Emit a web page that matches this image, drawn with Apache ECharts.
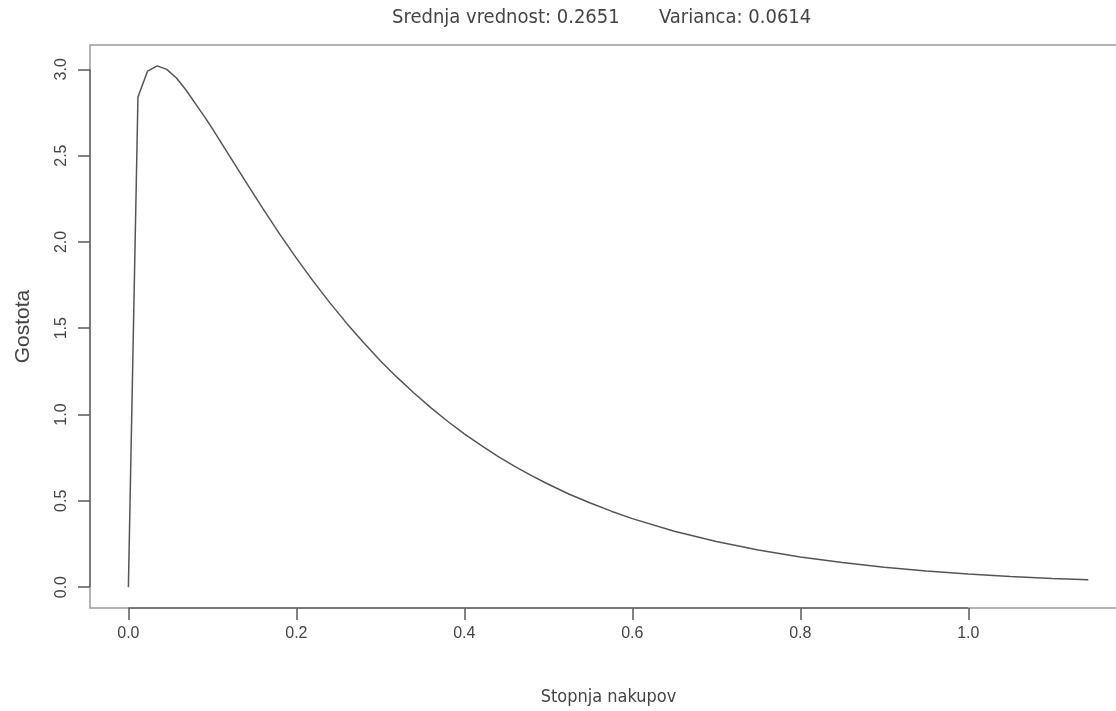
<!DOCTYPE html>
<html>
<head>
<meta charset="utf-8">
<script src="https://cdn.jsdelivr.net/npm/echarts@6/dist/echarts.min.js"></script>
<style>
  html, body { margin: 0; padding: 0; background: #fff; overflow: hidden; }
  /* the frame's right edge runs past the page edge */
  #chart { width: 1130px; height: 711px; }
</style>
</head>
<body>
<div id="chart"></div>
<script>
// Density curve of purchase rate (Stopnja nakupov)
const rateX = [0, 0.0114, 0.0229, 0.0343, 0.0457, 0.0572, 0.0686, 0.0800, 0.0914,
  0.10, 0.12, 0.14, 0.16, 0.18, 0.20, 0.22, 0.24, 0.26, 0.28, 0.30, 0.32, 0.34,
  0.36, 0.38, 0.40, 0.42, 0.44, 0.46, 0.48, 0.50, 0.525, 0.55, 0.575, 0.60,
  0.65, 0.70, 0.75, 0.80, 0.85, 0.90, 0.95, 1.00, 1.05, 1.10, 1.143];
const densityY = [0, 2.84, 2.99, 3.02, 3.00, 2.95, 2.88, 2.80, 2.72,
  2.656, 2.501, 2.346, 2.194, 2.047, 1.906, 1.773, 1.647, 1.528, 1.417, 1.312, 1.215, 1.125,
  1.040, 0.961, 0.888, 0.821, 0.758, 0.700, 0.646, 0.596, 0.538, 0.487, 0.440, 0.397,
  0.324, 0.264, 0.215, 0.175, 0.142, 0.115, 0.094, 0.076, 0.062, 0.050, 0.042];

const xTicks = [0, 0.2, 0.4, 0.6, 0.8, 1.0];
const yTicks = [0, 0.5, 1.0, 1.5, 2.0, 2.5, 3.0];

const meanText = 'Srednja vrednost: 0.2651';
const varText = 'Varianca: 0.0614';
const xTitle = 'Stopnja nakupov';
const yTitle = 'Gostota';

// data range padded by 4% on each side
const xMin = -0.0457, xMax = 1.189;
const yMin = -0.121, yMax = 3.141;

const curve = rateX.map((x, i) => [x, densityY[i]]);

const chart = echarts.init(document.getElementById('chart'), null, { renderer: 'canvas' });

const tickFont = { fontFamily: 'Liberation Sans, Arial, sans-serif', fontSize: 16, color: '#444' };
const condFont = 'DejaVu Sans Condensed, sans-serif';
const tickStyle = { color: '#5a5a5a', width: 1.5 };

chart.setOption({
  animation: false,
  backgroundColor: '#fff',
  title: [
    { text: meanText, left: 387, top: 3,
      textStyle: { fontFamily: condFont, fontSize: 20, fontWeight: 'normal', color: '#444' } },
    { text: varText, left: 654, top: 3,
      textStyle: { fontFamily: condFont, fontSize: 20, fontWeight: 'normal', color: '#444' } }
  ],
  grid: {
    left: 90, top: 45, right: 3, bottom: 103,
    show: true, borderColor: '#9a9a9a', borderWidth: 1.5
  },
  xAxis: {
    type: 'value', min: xMin, max: xMax,
    name: xTitle, nameLocation: 'middle', nameGap: 80,
    nameTextStyle: { fontFamily: condFont, fontSize: 18, color: '#444' },
    splitLine: { show: false },
    axisLine: { show: false, onZero: false },
    axisTick: { show: true, customValues: xTicks, length: 12, lineStyle: tickStyle },
    axisLabel: Object.assign({ customValues: xTicks, margin: 18,
      formatter: v => v.toFixed(1) }, tickFont)
  },
  yAxis: {
    type: 'value', min: yMin, max: yMax,
    name: yTitle, nameLocation: 'middle', nameGap: 56, nameRotate: 90,
    nameTextStyle: { fontFamily: 'Liberation Sans, Arial, sans-serif', fontSize: 21, color: '#444' },
    splitLine: { show: false },
    axisLine: { show: false, onZero: false },
    axisTick: { show: true, customValues: yTicks, length: 12, lineStyle: tickStyle },
    axisLabel: Object.assign({ customValues: yTicks, margin: 20, rotate: 90,
      formatter: v => v.toFixed(1) }, tickFont)
  },
  series: [
    {
      type: 'line', data: curve, symbol: 'none', smooth: false,
      lineStyle: { color: '#555', width: 1.5 }
    },
    {
      // axis segments from first to last tick
      type: 'line', symbol: 'none', clip: false, silent: true,
      data: [[xTicks[0], yMin], [xTicks[xTicks.length - 1], yMin]],
      lineStyle: { color: '#666', width: 1.5 }
    },
    {
      type: 'line', symbol: 'none', clip: false, silent: true,
      data: [[xMin, yTicks[0]], [xMin, yTicks[yTicks.length - 1]]],
      lineStyle: { color: '#666', width: 1.5 }
    }
  ]
});
</script>
</body>
</html>
